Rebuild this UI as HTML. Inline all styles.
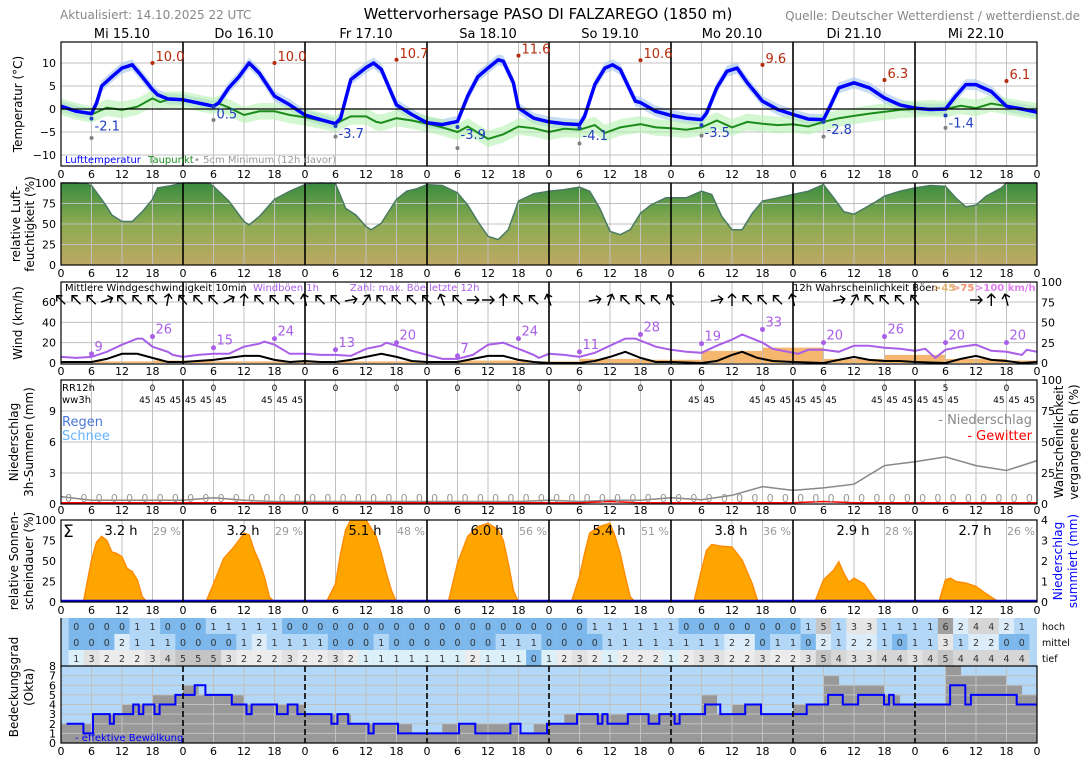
<!DOCTYPE html>
<html><head><meta charset="utf-8">
<style>
body{margin:0;background:#fff}
svg{display:block;font-family:"DejaVu Sans","Liberation Sans",sans-serif}
</style></head>
<body>
<svg id="c" width="1088" height="763" viewBox="0 0 1088 763">
<defs>
<linearGradient id="rhg" x1="0" y1="0" x2="0" y2="1">
<stop offset="0" stop-color="#3a8c3f"/><stop offset="0.5" stop-color="#8cab52"/><stop offset="1" stop-color="#bea863"/>
</linearGradient>
<clipPath id="clipT"><rect x="61" y="42" width="976" height="124"/></clipPath>
<clipPath id="clipS"><rect x="61" y="520" width="976" height="82"/></clipPath>
</defs>
</svg>
<script>
// ---------- data ----------
const days=['Mi 15.10','Do 16.10','Fr 17.10','Sa 18.10','So 19.10','Mo 20.10','Di 21.10','Mi 22.10'];
const tempH=[0,3,6,7,8,10,12,14,16,18,19,21,24,27,30,31,33,35,37,39,42,45,48,51,54,55,57,60,61.5,63,66,69,72,75,78,80,82,84,86,87,89,90,93,96,99,102,103,105,107,108.5,110,113,114,117,120,123,126,127,129,131,133,135,138,141,144,147,150,151,153,156,159,162,165,168,171,174,176,178,180,183,186,189,192];
const tempV=[0.6,-0.5,-1.0,1.3,5,7,8.9,9.6,7,4.2,3.1,2.2,2.0,1.3,0.6,1.3,4.6,7,10,7.8,2.8,0.9,-1.3,-2.3,-3.2,-2,6.4,9,10,8.6,0.9,-1.2,-3,-3.4,-2.7,2.8,7,8.9,10.7,10.4,5.7,0.2,-2,-2.8,-3.2,-3.4,-1.6,5.3,8.9,9.6,8.6,1.7,1.4,-0.5,-1.4,-2,-2.3,-0.9,4.6,8.2,8.9,5.7,1.7,-0.1,-1.2,-2.2,-2.3,-0.1,4.6,5.7,4.6,2.4,0.9,0.2,-0.1,0,2.8,5.3,5.3,3.8,0.6,0,-0.7];
const dewH=[0,3,6,9,12,15,18,19.5,21,24,27,30,31,33,36,39,42,45,48,51,54,57,60,62,63,66,69,72,75,78,80,84,87,90,93,96,99,102,105,107,110,114,117,120,123,126,129,132,135,138,141,144,147,150,153,156,159,162,165,168,171,174,177,180,183,186,189,192];
const dewV=[0.5,-0.5,-1.2,0.3,-0.2,0.5,2.3,1.5,2.0,2.0,1.3,0.7,1.2,0.3,-1.3,-0.5,-0.5,-1.3,-1.8,-2.5,-3.2,-1.6,-1.6,-2.8,-3,-2,-2.5,-3.2,-4,-5,-3.8,-6.5,-5.5,-3.8,-4.2,-5,-4.3,-4.5,-3.5,-5.2,-4,-3.3,-4,-4.2,-4.5,-4,-2.5,-4,-2.8,-3.2,-3.5,-3.3,-3.8,-2.8,-2,-1.5,-1,-0.6,-0.2,0,0.1,0,0.7,0.2,1.2,0.6,0,-0.5];
const maxV=[10.0,10.0,10.7,11.6,10.6,9.6,6.3,6.1];
const minV=[-2.1,0.5,-3.7,-3.9,-4.1,-3.5,-2.8,-1.4];
const soilMinV=[-6.3,-2.4,-6.0,-8.5,-7.5,-5.8,-6.0,-4.1];
const tempTicks=[10,5,0,-5,-10];

const rhH=[0,3,5,6,8,9,10,12,14,16,18,19,21,24,27,29,30,33,36,37,39,42,45,48,51,54,56,58,60,61,63,66,68,70,72,75,78,80,82,84,86,88,90,93,96,99,102,104,106,108,110,112,114,116,119,120,123,126,128,130,132,134,136,138,141,144,147,150,152,154,156,158,160,162,165,168,171,174,176,178,180,182,185,186,189,192];
const rhV=[100,100,99,97,80,71,61,53,53,65,80,94,96,100,100,100,96,78,53,49,59,80,90,98,100,99,69,61,47,43,51,80,90,93,98,97,88,73,53,35,31,43,78,87,90,92,95,90,69,41,37,43,63,73,82,82,82,90,86,59,43,43,63,78,82,86,90,98,82,65,62,69,76,84,90,94,97,96,82,71,73,84,94,100,100,100];
const rhTicks=[0,25,50,75,100];

const gustH=[0,3,6,9,12,15,16,18,21,22,24,27,30,33,36,39,40,42,45,48,51,54,57,60,63,64,66,69,72,75,78,81,84,87,90,93,94,96,99,102,105,108,111,113,117,120,123,126,129,132,134,138,140,144,145,147,150,153,156,159,162,165,168,170,172,174,177,180,183,186,189,190,192];
const gustV=[6,5,6,11,18,24,24,16,11,8,6,8,9,9,16,19,21,18,9,9,8,8,7,14,17,20,17,12,8,4,4,8,18,20,14,8,5,9,8,6,10,17,24,24,16,13,11,10,17,23,28,20,14,10,9,13,13,11,17,17,15,14,12,14,5,13,16,18,12,11,8,13,11];
const windH=[0,6,9,12,15,18,21,24,30,33,36,39,42,45,48,51,54,57,60,63,66,69,72,78,81,84,87,90,93,96,102,105,108,111,114,117,120,126,129,132,134,137,140,144,150,153,156,159,162,165,168,174,177,180,183,186,189,192];
const windV=[1,1,4,9,9,5,1,1,3,5,7,7,3,1,2,1,1,3,6,9,6,2,1,1,4,7,7,3,1,0,0,2,6,11,5,1,1,0,2,8,11,5,2,1,0,3,6,3,2,2,1,0,4,7,3,2,0,1];
const gustProbStart=[0,6,18,30,42,54,66,78,90,102,114,126,138,150,162,174,186];
const gustProbV=[2,2,3,2,2,2,2,3,2,5,4,15,19,5,10,5,3];
const gustLblH=[6,18,30,42,54,66,78,90,102,114,126,138,150,162,174,186];
const gustLblV=[9,26,15,24,13,20,7,24,11,28,19,33,20,26,20,20];
const dirH=[0,3,6,9,12,15,18,21,24,27,30,33,36,39,42,45,48,51,54,57,60,63,66,69,72,75,78,81,84,87,90,93,96,105,108,111,114,117,120,129,132,135,138,141,144,153,156,159,162,165,168,180,183,186];
const dirV=[-45,-45,-45,70,-45,-45,-45,10,-40,-45,-45,60,5,-45,-45,-45,-15,-45,-45,80,35,-45,-45,-45,-45,-20,-45,90,90,0,-45,-45,-20,80,20,-45,-45,-45,-30,80,0,-45,-45,-45,-15,80,30,-45,-45,-45,-40,90,0,-15];
const windTicks=[0,20,40,60];
const pctTicks=[0,25,50,75,100];

const rrH=[18,30,42,54,66,78,90,102,114,126,138,150,162,174,186];
const rrV=[0,0,0,0,0,0,0,0,0,0,0,0,0,5,0];
const wwH=[15,18,21,24,27,30,39,42,45,123,126,135,138,141,144,147,150,159,162,165,168,171,174,183,186,189];
const wwV=[45,45,45,45,45,45,45,45,45,45,45,45,45,45,45,45,45,45,45,45,45,45,45,45,45,45];
const probPH=[0,6,12,18,24,30,36,42,48,54,60,66,72,78,84,90,96,102,108,114,120,126,132,138,144,150,156,162,168,174,180,186,192];
const probPV=[6,3,3,3,3,5,3,2,2,2,2,2,2,2,2,2,3,2,3,3,5,3.5,7,14,11,13,16,31,34,38,31,27,35];
const thunderV=[1,1,1,1,1,1,1,1,1,1,1,1,1,1,1,1,1,1,2,1,1,1,1,1,1,2,1,1,1,1,1,1,1];
const precipTicks=[0,3,6,9];

const sunH=[4.4,6,7,8,9,10,11,12,13,14,15,16,17,28.5,30,32,34,35,36,37,38,39,40,41,42,52.2,54,55,56,57,60,62,63,64,65,66,76.2,78,80,82,84,86,87,88,89,90,100.4,102,103,104,106,108,109,110,111,112,113,124.5,126,127,128,130,132,134,136,137,138,148.3,150,152,153,154,155,156,158,160,161,172.7,174,175,176,178,180,182,184,185];
const sunV=[0,51,73,80,75,61,59,55,41,37,27,6,0,0,22,53,67,75,84,82,63,49,31,6,0,0,22,59,88,100,100,80,59,35,14,0,0,47,80,92,96,88,75,47,14,0,0,31,59,84,92,96,80,59,31,6,0,0,39,63,70,68,67,51,22,2,0,0,27,39,49,35,24,29,22,4,0,0,27,29,25,23,19,10,2,0];
const sunHours=['3.2 h','3.2 h','5.1 h','6.0 h','5.4 h','3.8 h','2.9 h','2.7 h'];
const sunPct=['29 %','29 %','48 %','56 %','51 %','36 %','28 %','26 %'];
const sunTicks=[0,25,50,75,100];
const sumTicks=[0,1,2,3,4];

const hoch=[0,0,0,0,1,1,0,0,0,1,1,1,1,1,0,0,0,0,0,0,0,0,0,0,0,0,0,0,0,0,0,0,0,0,1,1,1,1,1,1,0,0,0,0,0,0,0,0,1,5,1,3,3,1,1,1,1,6,2,4,4,2,1];
const mittel=[0,0,0,2,1,1,1,0,0,0,0,1,2,1,1,1,1,0,0,0,1,0,0,0,0,0,0,0,1,1,1,0,0,0,0,1,1,1,1,1,1,1,1,2,2,0,1,1,0,2,1,2,2,1,0,1,1,3,1,2,2,0,0];
const tief=[1,3,2,2,2,3,4,5,5,5,3,2,2,2,3,2,2,3,2,1,1,1,1,1,1,1,2,1,1,1,0,1,2,3,2,1,2,2,2,1,2,3,3,2,2,3,2,2,3,5,4,3,3,4,4,3,4,5,4,4,4,4,4];
const cloudTotal=[2,2,3,3,4,4,5,5,6,5,5,5,4,4,4,4,3,3,3,2,2,2,2,1,1,2,2,2,2,2,1,2,2,3,3,3,3,3,3,3,3,3,5,3,4,4,3,3,4,4,7,6,6,6,5,4,4,4,8,7,7,7,6,5];
const effH=[1.1,4.4,6.3,9.6,10.4,14.2,15.3,16.2,18.4,19.4,22.5,26.3,28.4,33.6,36.5,37.5,42.5,44.6,46.5,53.2,54.4,56.5,60.5,61.5,66.3,78.3,81.5,88.4,90.4,95.6,101.5,105.6,106.5,107.5,111.5,115.6,117.7,120.7,121.7,126.7,129.7,134.6,137.7,146.7,150.9,153.8,156.8,161.9,162.9,163.8,174.9,177.9,179,188];
const effV=[2,1,3,2,3,4,3,4,3,4,5,6,5,4,3,4,3,4,3,2,3,2,1,2,1,2,1,2,1,2,3,2,3,2,3,2,3,2,3,4,3,4,3,4,5,4,5,4,5,4,6,4,5,4];
const oktaTicks=[0,1,2,3,4,5,6,7,8];

// ---------- scales ----------
const X=h=>61+h*976/192;
const YT=v=>109-v*4.6;
const YR=v=>265-v*0.82;
const YW=v=>363-v*1.017;
const YWP=p=>363-p*0.81;
const YP=v=>504-v*10.33;
const YPP=p=>504-p*1.24;
const YS=p=>602-p*0.82;
const YSum=v=>602-v*20.5;
const YC=o=>743-o*9.625;

const NS='http://www.w3.org/2000/svg';
const svg=document.getElementById('c');
function mk(tag,attrs,name,parent){
  const e=document.createElementNS(NS,tag);
  for(const k in attrs)e.setAttribute(k,attrs[k]);
  
  
  (parent||svg).appendChild(e);return e;
}
function tx(x,y,s,name,o){
  o=o||{};
  const e=mk('text',{x:x,y:y,'font-size':o.fs||11,fill:o.fill||'#000','text-anchor':o.anchor||'start'},name);
  if(o.rot!==undefined)e.setAttribute('transform','rotate('+o.rot+' '+x+' '+y+')');
  if(o.fw)e.setAttribute('font-weight',o.fw);
  e.textContent=s;return e;
}
function line(x1,y1,x2,y2,st,w,name){return mk('line',{x1:x1,y1:y1,x2:x2,y2:y2,stroke:st,'stroke-width':w},name);}
function pathOf(hs,vs,fx,fy){return hs.map((h,i)=>(i?'L':'M')+fx(h).toFixed(1)+' '+fy(vs[i]).toFixed(1)).join(' ');}

function grid(top,bot,hticks,fy,name){
  for(let h=6;h<192;h+=6){ if(h%24) line(X(h),top,X(h),bot,'#c0c0c0',1,name+'-vgrid'); }
  (hticks||[]).forEach(v=>line(61,fy(v),1037,fy(v),'#c0c0c0',1,name+'-hgrid'));
}
function dayLines(top,bot,name){for(let d=1;d<8;d++)line(X(24*d),top,X(24*d),bot,'#000',1.6,name+'-day-separator');}
function border(top,bot,name){mk('rect',{x:61,y:top,width:976,height:bot-top,fill:'none',stroke:'#000','stroke-width':1.2},name+'-frame');}
function hourLabels(y,name){for(let h=0;h<=192;h+=6)tx(X(h),y,String(h%24),name+'-hour-label',{anchor:'middle',fs:11});}
function yLabels(ticks,fy,x,name,anchor,fill){ticks.forEach(v=>tx(x,fy(v)+4,String(v).replace('-','\u2212'),name,{anchor:anchor||'end',fs:11,fill:fill||'#000'}));}

// ---------- header ----------
tx(60,19,'Aktualisiert: 14.10.2025 22 UTC','update-time',{fs:12,fill:'#888'});
tx(548,19,'Wettervorhersage PASO DI FALZAREGO (1850 m)','chart-title',{fs:15,anchor:'middle'});
tx(1080,20,'Quelle: Deutscher Wetterdienst / wetterdienst.de','source-label',{fs:12,fill:'#888',anchor:'end'});
days.forEach((d,i)=>tx(X(24*i+12),38,d,'day-label',{fs:13,anchor:'middle'}));

// ---------- temperature ----------
grid(42,166,[10,5,-5,-10],YT,'temp');
const tg=mk('g',{'clip-path':'url(#clipT)'},'temperature-series');
let up=tempH.map((h,i)=>X(h).toFixed(1)+','+YT(tempV[i]+1.2).toFixed(1));
let dn=tempH.map((h,i)=>X(h).toFixed(1)+','+YT(tempV[i]-1.2).toFixed(1)).reverse();
mk('polygon',{points:up.concat(dn).join(' '),fill:'#a9c9ec',opacity:0.65},'temperature-band',tg);
up=dewH.map((h,i)=>X(h).toFixed(1)+','+YT(dewV[i]+1.8).toFixed(1));
dn=dewH.map((h,i)=>X(h).toFixed(1)+','+YT(dewV[i]-1.8).toFixed(1)).reverse();
mk('polygon',{points:up.concat(dn).join(' '),fill:'#b6f2b0',opacity:0.6},'dewpoint-band',tg);
line(61,YT(0),1037,YT(0),'#000',1.2,'zero-line');
mk('path',{d:pathOf(dewH,dewV,X,YT),fill:'none',stroke:'#1b8c1b','stroke-width':2},'dewpoint-line',tg);
mk('path',{d:pathOf(tempH,tempV,X,YT),fill:'none',stroke:'#0000ff','stroke-width':3.5,'stroke-linejoin':'round'},'temperature-line',tg);
dayLines(42,166,'temp');
for(let d=0;d<8;d++){
  mk('circle',{cx:X(24*d+18),cy:YT(maxV[d]),r:2,fill:'#b52a0a'},'max-temp-dot');
  tx(X(24*d+18)+3,YT(maxV[d])-2,maxV[d].toFixed(1),'max-temp-label',{fs:13,fill:'#b52a0a'});
  mk('circle',{cx:X(24*d+6),cy:YT(minV[d]),r:2,fill:'#1f3fbf'},'min-temp-dot');
  tx(X(24*d+6)+3,YT(minV[d])+12,minV[d].toFixed(1),'min-temp-label',{fs:13,fill:'#1f3fbf'});
  mk('circle',{cx:X(24*d+6),cy:YT(soilMinV[d]),r:2,fill:'#808080'},'soil-min-dot');
}
tx(65,163,'Lufttemperatur','legend-air-temp',{fs:10,fill:'#0000ff'});
tx(148,163,'Taupunkt','legend-dewpoint',{fs:10,fill:'#1b8c1b'});
tx(194,163,'\u2022 5cm Minimum (12h davor)','legend-soil-min',{fs:10,fill:'#999'});
border(42,166,'temp');
yLabels(tempTicks,YT,56,'temp-y-tick');
hourLabels(178,'temp');
tx(22,104,'Temperatur (°C)','temp-y-title',{fs:12,anchor:'middle',rot:-90});

// ---------- humidity ----------
const rhPts=[X(0)+','+YR(0)].concat(rhH.map((h,i)=>X(h).toFixed(1)+','+YR(rhV[i]).toFixed(1))).concat([X(192)+','+YR(0)]);
mk('polygon',{points:rhPts.join(' '),fill:'url(#rhg)'},'humidity-area');
grid(183,265,[25,50,75],YR,'rh');
mk('path',{d:pathOf(rhH,rhV,X,YR),fill:'none',stroke:'#4a7a60','stroke-width':1.5},'humidity-line');
dayLines(183,265,'rh');
border(183,265,'rh');
yLabels(rhTicks,YR,56,'rh-y-tick');
hourLabels(277,'rh');
tx(20,224,'relative Luft-','rh-y-title',{fs:12,anchor:'middle',rot:-90});
tx(34,224,'feuchtigkeit (%)','rh-y-title-2',{fs:12,anchor:'middle',rot:-90});

// ---------- wind ----------
gustProbStart.forEach((s,i)=>{
  const e=i<gustProbStart.length-1?gustProbStart[i+1]:192;
  mk('rect',{x:X(s),y:YWP(gustProbV[i]),width:X(e)-X(s),height:YWP(0)-YWP(gustProbV[i]),fill:'#f5b66e'},'gust-probability-bar');
});
grid(282,364,[20,40,60],YW,'wind');
mk('path',{d:pathOf(gustH,gustV,X,YW),fill:'none',stroke:'#a95ee8','stroke-width':2},'gust-line');
mk('path',{d:pathOf(windH,windV,X,YW),fill:'none',stroke:'#000','stroke-width':2},'mean-wind-line');
gustLblH.forEach((h,i)=>{
  mk('circle',{cx:X(h),cy:YW(gustLblV[i]),r:2.5,fill:'#a95ee8'},'max-gust-dot');
  tx(X(h)+3,YW(gustLblV[i])-3,String(gustLblV[i]),'max-gust-label',{fs:13,fill:'#a95ee8'});
});
dirH.forEach((h,i)=>{
  const g=mk('g',{transform:'translate('+X(h).toFixed(1)+',300) rotate('+dirV[i]+')'},'wind-direction-arrow');
  mk('path',{d:'M0 6 L0 -6 M-4 -2 L0 -6 L4 -2',fill:'none',stroke:'#000','stroke-width':1.4},'arrow-shape',g);
});
dayLines(282,364,'wind');
tx(65,291,'Mittlere Windgeschwindigkeit 10min','legend-mean-wind',{fs:10});
tx(253,291,'Windböen 1h','legend-gusts',{fs:10,fill:'#a95ee8'});
tx(350,291,'Zahl: max. Böe letzte 12h','legend-max-gust',{fs:10,fill:'#a95ee8'});
tx(793,291,'12h Wahrscheinlichkeit Böen','legend-gust-prob',{fs:10});
tx(933,291,'>45','legend-gt45',{fs:10,fill:'#e0b070',fw:'bold'});
tx(952,291,'>75','legend-gt75',{fs:10,fill:'#f09070',fw:'bold'});
tx(975,291,'>100 km/h','legend-gt100',{fs:10,fill:'#e080f0',fw:'bold'});
border(282,364,'wind');
yLabels(windTicks,YW,56,'wind-y-tick');
yLabels(pctTicks,YWP,1041,'wind-right-tick','start');
hourLabels(375,'wind');
tx(22,323,'Wind (km/h)','wind-y-title',{fs:12,anchor:'middle',rot:-90});

// ---------- precipitation ----------
grid(380,504,[3,6,9],YP,'precip');
mk('path',{d:pathOf(probPH,probPV,X,YPP),fill:'none',stroke:'#888','stroke-width':1.5},'precip-probability-line');
mk('path',{d:pathOf(probPH,thunderV,X,YPP),fill:'none',stroke:'#ff0000','stroke-width':1.5},'thunder-probability-line');
for(let k=0;k<64;k++)tx(X(3*k+1.5),502,'0','precip-amount-label',{fs:11,fill:'#999',anchor:'middle'});
dayLines(380,504,'precip');
tx(62,391,'RR12h','rr12h-label',{fs:10});
tx(62,403,'ww3h','ww3h-label',{fs:10});
rrH.forEach((h,i)=>tx(X(h),391,String(rrV[i]),'rr12h-value',{fs:9,anchor:'middle'}));
wwH.forEach((h,i)=>tx(X(h+1.5),403,String(wwV[i]),'ww3h-value',{fs:9,anchor:'middle'}));
tx(62,426,'Regen','legend-rain',{fs:13,fill:'#4b78d8'});
tx(62,440,'Schnee','legend-snow',{fs:13,fill:'#66b3ff'});
tx(1032,424,'- Niederschlag','legend-precip-prob',{fs:13,fill:'#888',anchor:'end'});
tx(1032,440,'- Gewitter','legend-thunder-prob',{fs:13,fill:'#ff0000',anchor:'end'});
border(380,504,'precip');
yLabels(precipTicks,YP,56,'precip-y-tick');
yLabels(pctTicks,YPP,1041,'precip-right-tick','start');
hourLabels(514,'precip');
tx(18,442,'Niederschlag','precip-y-title',{fs:12,anchor:'middle',rot:-90});
tx(33,442,'3h-Summen (mm)','precip-y-title-2',{fs:12,anchor:'middle',rot:-90});
tx(1063,442,'Wahrscheinlichkeit','precip-right-title',{fs:12,anchor:'middle',rot:-90});
tx(1078,442,'vergangene 6h (%)','precip-right-title-2',{fs:12,anchor:'middle',rot:-90});

// ---------- sunshine ----------
grid(520,602,[],YS,'sun');
const sunPts=[X(0)+','+YS(0)].concat(sunH.map((h,i)=>X(h).toFixed(1)+','+YS(sunV[i]).toFixed(1))).concat([X(192)+','+YS(0)]);
const sg=mk('g',{'clip-path':'url(#clipS)'},'sunshine-series');
mk('polygon',{points:sunPts.join(' '),fill:'#ffa500',stroke:'#ff8c00','stroke-width':1.5},'sunshine-area',sg);
line(61,YSum(0)-1,1037,YSum(0)-1,'#0000cc',2.5,'precip-sum-line');
dayLines(520,602,'sun');
tx(63,537,'\u03a3','sum-symbol',{fs:17});
sunHours.forEach((s,i)=>tx(X(24*i)+60,535,s,'sunshine-hours',{fs:13,anchor:'middle'}));
sunPct.forEach((s,i)=>tx(X(24*i)+106,535,s,'sunshine-percent',{fs:11,fill:'#999',anchor:'middle'}));
border(520,602,'sun');
yLabels(sunTicks,YS,56,'sun-y-tick');
yLabels(sumTicks,YSum,1041,'sum-right-tick','start');
hourLabels(614,'sun');
tx(18,561,'relative Sonnen-','sun-y-title',{fs:12,anchor:'middle',rot:-90});
tx(33,561,'scheindauer (%)','sun-y-title-2',{fs:12,anchor:'middle',rot:-90});
tx(1062,561,'Niederschlag','sum-right-title',{fs:12,anchor:'middle',rot:-90,fill:'#0000ff'});
tx(1077,561,'summiert (mm)','sum-right-title-2',{fs:12,anchor:'middle',rot:-90,fill:'#0000ff'});

// ---------- cloud table ----------
const palHM=['#7cb8ec','#b3d7f6','#dcedf9','#e6e6e6','#d6d6d6','#c6c6c6','#a0a0a0'];
const palT=['#7cb8ec','#dcf0fa','#ececec','#e2e2e2','#d6d6d6','#c4c4c4','#a0a0a0'];
mk('rect',{x:61,y:618,width:976,height:48,fill:'#b3d7f6'},'cloud-table-bg');
[[hoch,618,palHM,'high'],[mittel,634,palHM,'mid'],[tief,650,palT,'low']].forEach(r=>{
  r[0].forEach((v,k)=>{
    const h=3*k+3;
    mk('rect',{x:X(h-1.5),y:r[1],width:X(3)-X(0),height:16,fill:r[2][Math.min(v,6)]},'cloud-cell-'+r[3]);
    tx(X(h),r[1]+12,String(v),'cloud-value-'+r[3],{fs:9.5,fill:'#333',anchor:'middle'});
  });
});
tx(1042,630,'hoch','row-label-high',{fs:9.5});
tx(1042,646,'mittel','row-label-mid',{fs:9.5});
tx(1042,662,'tief','row-label-low',{fs:9.5});
line(61,618,61,666,'#000',1.2,'cloud-table-left');

// ---------- cloud chart ----------
mk('rect',{x:61,y:666,width:976,height:77,fill:'#b3d7f6'},'cloud-chart-bg');
cloudTotal.forEach((v,k)=>mk('rect',{x:X(3*k),y:YC(v),width:X(3)-X(0)+0.3,height:YC(0)-YC(v),fill:'#999'},'cloud-total-bar'));
grid(666,743,[1,2,3,4,5,6,7],YC,'cloud');
let d='M'+X(effH[0]).toFixed(1)+' '+YC(effV[0]).toFixed(1);
for(let i=1;i<effH.length;i++){d+=' H'+X(effH[i]).toFixed(1)+' V'+YC(effV[i]).toFixed(1);}
d+=' H'+X(192).toFixed(1);
mk('path',{d:d,fill:'none',stroke:'#0000ff','stroke-width':2},'effective-cloud-line');
for(let dd=1;dd<8;dd++)mk('line',{x1:X(24*dd),y1:666,x2:X(24*dd),y2:743,stroke:'#000','stroke-width':1.6,'stroke-dasharray':'6,3'},'cloud-day-separator');
tx(75,741,'- effektive Bewölkung','legend-effective-cloud',{fs:10,fill:'#0000ff'});
mk('rect',{x:61,y:666,width:976,height:77,fill:'none',stroke:'#000','stroke-width':1.2},'cloud-frame');
yLabels(oktaTicks,YC,56,'okta-y-tick');
hourLabels(755,'cloud');
tx(18,687,'Bedeckungsgrad','cloud-y-title',{fs:12,anchor:'middle',rot:-90});
tx(33,687,'(Okta)','cloud-y-title-2',{fs:12,anchor:'middle',rot:-90});
</script>
</body></html>
